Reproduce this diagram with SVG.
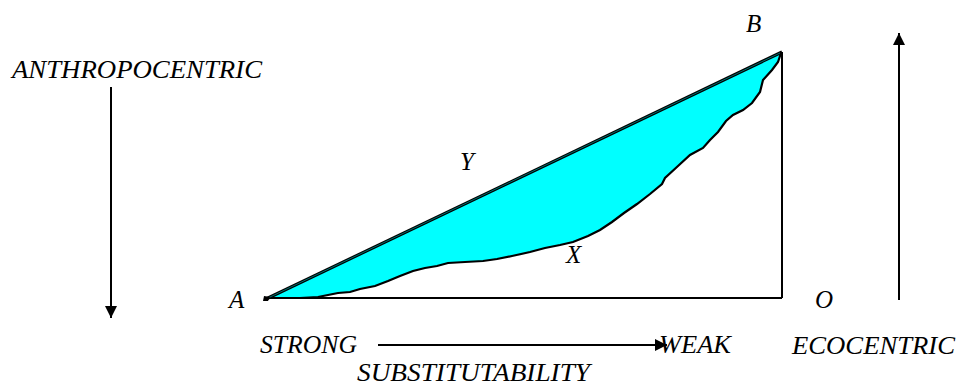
<svg xmlns="http://www.w3.org/2000/svg" width="957" height="387" viewBox="0 0 957 387">
<style>
.t{font-family:"Liberation Serif","Times New Roman",serif;font-style:italic;font-size:25px;fill:#000}
.ln{stroke:#000;fill:none}
</style>
<defs>
<marker id="ah" viewBox="0 0 10 10" refX="10" refY="5" markerWidth="12" markerHeight="12" markerUnits="userSpaceOnUse" orient="auto">
<path d="M0,0 L10,5 L0,10 Z" fill="#000"/>
</marker>
</defs>
<rect width="957" height="387" fill="#fff"/>
<g id="area">
<path d="M266,298 L781,53 L778,62 L772,70 L763,80 L760,92 L752,103 L743,110 L733,115 L726,121 L718,132 L710,140 L703,148 L690,155 L678,166 L665,178 L662,184 L650,194 L637,204 L624,213 L612,222 L600,230 L588,236 L573,242 L560,245 L545,248 L530,252 L512,256 L497,259 L483,261 L465,262 L448,263 L437,266 L425,268 L413,271 L400,276 L388,281 L375,286 L360,289 L350,292 L338,293 L328,295 L318,297 L300,298 Z" fill="#00ffff"/>
<path class="ln" stroke-width="2.2" d="M266,298 L300,298 L318,297 L328,295 L338,293 L350,292 L360,289 L375,286 L388,281 L400,276 L413,271 L425,268 L437,266 L448,263 L465,262 L483,261 L497,259 L512,256 L530,252 L545,248 L560,245 L573,242 L588,236 L600,230 L612,222 L624,213 L637,204 L650,194 L662,184 L665,178 L678,166 L690,155 L703,148 L710,140 L718,132 L726,121 L733,115 L743,110 L752,103 L760,92 L763,80 L772,70 L778,62 L781,53"/>
</g>
<g id="connectors">
<line class="ln" x1="266" y1="298" x2="782" y2="298" stroke-width="2"/>
<line class="ln" x1="782" y1="52" x2="782" y2="298" stroke-width="2"/>
<line class="ln" x1="266" y1="299" x2="782" y2="52" stroke-width="3.2"/>
<line x1="268" y1="298" x2="780" y2="53" stroke="#008c8c" stroke-width="0.8"/>
<path d="M264,296 L270,297 L268,301 L263,301 Z" fill="#000"/>
<line class="ln" x1="111" y1="87" x2="111" y2="318" stroke-width="2" marker-end="url(#ah)"/>
<line class="ln" x1="899" y1="300" x2="899" y2="33" stroke-width="2" marker-end="url(#ah)"/>
<line class="ln" x1="378" y1="345" x2="667" y2="345" stroke-width="2" marker-end="url(#ah)"/>
</g>
<g id="labels">
<text class="t" x="12" y="78" textLength="250" lengthAdjust="spacingAndGlyphs">ANTHROPOCENTRIC</text>
<text class="t" x="746" y="32">B</text>
<text class="t" x="460" y="170">Y</text>
<text class="t" x="566" y="263">X</text>
<text class="t" x="229" y="308">A</text>
<text class="t" x="815" y="308">O</text>
<text class="t" x="260" y="353" textLength="97" lengthAdjust="spacingAndGlyphs">STRONG</text>
<text class="t" x="659" y="353" textLength="72" lengthAdjust="spacingAndGlyphs">WEAK</text>
<text class="t" x="792" y="354" textLength="163" lengthAdjust="spacingAndGlyphs">ECOCENTRIC</text>
<text class="t" x="357" y="381" textLength="233" lengthAdjust="spacingAndGlyphs">SUBSTITUTABILITY</text>
</g>
</svg>
